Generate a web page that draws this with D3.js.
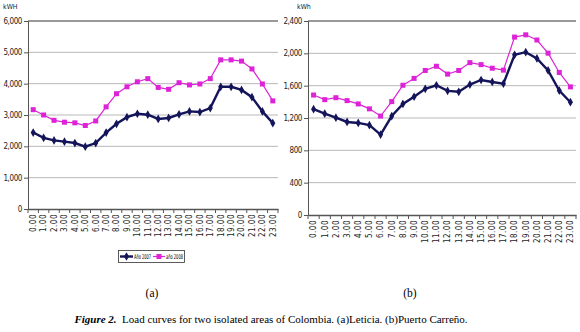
<!DOCTYPE html>
<html>
<head>
<meta charset="utf-8">
<script src="https://cdn.jsdelivr.net/npm/d3@7"></script>
<style>
  body { margin: 0; background: #fff; }
  .tick text { font-family: "DejaVu Sans Condensed", "Liberation Sans Narrow", sans-serif; font-size: 8px; fill: #222; }
</style>
</head>
<body>
<svg id="chart" width="580" height="332"></svg>
<script>
const hours = ['0.00','1.00','2.00','3.00','4.00','5.00','6.00','7.00','8.00','9.00','10.00','11.00',
  '12.00','13.00','14.00','15.00','16.00','17.00','18.00','19.00','20.00','21.00','22.00','23.00']

// (a) Leticia
const leticia2007 = [2440, 2270, 2190, 2150, 2105, 1990, 2105, 2440, 2720, 2930, 3040, 3010,
  2875, 2905, 3020, 3115, 3095, 3220, 3900, 3900, 3800, 3570, 3115, 2740]
const leticia2008 = [3170, 3000, 2830, 2770, 2750, 2665, 2810, 3260, 3680, 3900, 4060, 4160,
  3880, 3820, 4030, 3960, 3990, 4160, 4760, 4760, 4720, 4470, 3990, 3450]
const leticiaTicks = [0, 1000, 2000, 3000, 4000, 5000, 6000]

// (b) Puerto Carreño
const carreno2007 = [1309, 1253, 1204, 1151, 1139, 1111, 995, 1224, 1374, 1463, 1561, 1605,
  1536, 1524, 1613, 1670, 1646, 1625, 1982, 2014, 1937, 1788, 1540, 1395]
const carreno2008 = [1484, 1427, 1451, 1415, 1374, 1313, 1224, 1403, 1605, 1690, 1788, 1840,
  1743, 1788, 1885, 1860, 1816, 1792, 2201, 2229, 2165, 2002, 1763, 1585]
const carrenoTicks = [0, 400, 800, 1200, 1600, 2000, 2400]

const navy = '#14145a'
const magenta = '#dd22d8'
const narrow = '"DejaVu Sans Condensed", "Liberation Sans Narrow", sans-serif'
const svg = d3.select('#chart')

function drawPanel(opts) {
  const g = svg.append('g')
  const x = d3.scaleBand().domain(hours).range([opts.left, opts.right])
  const y = d3.scaleLinear().domain([0, opts.max]).range([opts.bottom, opts.top])

  // gridlines, top one darker like the plot border
  g.selectAll('line.grid').data(opts.ticks.slice(1)).enter().append('line')
    .attr('class', 'grid')
    .attr('x1', opts.left).attr('x2', opts.right)
    .attr('y1', d => y(d)).attr('y2', d => y(d))
    .attr('stroke', d => d === opts.max ? '#777' : '#b8b8b8')
    .attr('stroke-width', d => d === opts.max ? 1.5 : 1)

  const yAxis = d3.axisLeft(y).tickValues(opts.ticks).tickSize(4).tickPadding(2)
    .tickFormat(d3.format(','))
  const yG = g.append('g').attr('transform', `translate(${opts.left},0)`).call(yAxis)
  yG.select('.domain').attr('stroke', '#555')
  yG.selectAll('.tick line').attr('stroke', '#555')
  yG.selectAll('.tick text').attr('letter-spacing', '-0.4px')

  const xAxis = d3.axisBottom(x).tickSize(0).tickPadding(0)
  const xG = g.append('g').attr('transform', `translate(0,${opts.bottom})`).call(xAxis)
  xG.select('.domain').attr('stroke', '#555').attr('stroke-width', 1.5)
  xG.selectAll('.tick text')
    .attr('transform', 'rotate(-90)')
    .attr('text-anchor', 'end')
    .attr('dy', '0.35em')
    .attr('x', -5).attr('y', 0)
    .attr('letter-spacing', '0.5px')
  // category separator ticks
  g.selectAll('line.xtick').data(d3.range(hours.length + 1)).enter().append('line')
    .attr('x1', i => opts.left + i * x.step()).attr('x2', i => opts.left + i * x.step())
    .attr('y1', opts.bottom).attr('y2', opts.bottom + 4)
    .attr('stroke', '#555')

  g.append('text').attr('x', opts.unitX).attr('y', 9)
    .attr('font-family', narrow)
    .attr('font-size', 7).attr('fill', '#222').text(opts.unit)

  const line = d3.line().x((d, i) => x(hours[i]) + x.bandwidth() / 2).y(d => y(d))

  g.append('path').datum(opts.s2008)
    .attr('d', line).attr('fill', 'none').attr('stroke', magenta).attr('stroke-width', 1.2)
  g.selectAll('rect.m').data(opts.s2008).enter().append('rect')
    .attr('x', (d, i) => x(hours[i]) + x.bandwidth() / 2 - 2.5)
    .attr('y', d => y(d) - 2.5)
    .attr('width', 5).attr('height', 5).attr('fill', magenta)

  g.append('path').datum(opts.s2007)
    .attr('d', line).attr('fill', 'none').attr('stroke', navy).attr('stroke-width', 2.4)
  const diamond = d3.symbol().type(d3.symbolDiamond).size(22)
  g.selectAll('path.n').data(opts.s2007).enter().append('path')
    .attr('d', diamond)
    .attr('transform', (d, i) => `translate(${x(hours[i]) + x.bandwidth() / 2},${y(d)})`)
    .attr('fill', navy)

  g.append('text').attr('x', opts.capX).attr('y', 297)
    .attr('text-anchor', 'middle')
    .attr('font-family', '"Liberation Serif", serif').attr('font-size', 11.5)
    .text(opts.cap)
}

drawPanel({ left: 28, right: 278, top: 21, bottom: 209, max: 6000, ticks: leticiaTicks,
  s2007: leticia2007, s2008: leticia2008, unit: 'kWH', unitX: 3, capX: 152, cap: '(a)' })
drawPanel({ left: 308, right: 576, top: 21, bottom: 215, max: 2400, ticks: carrenoTicks,
  s2007: carreno2007, s2008: carreno2008, unit: 'kWh', unitX: 297, capX: 410, cap: '(b)' })

// legend for (a)
const leg = svg.append('g')
leg.append('rect').attr('x', 118.5).attr('y', 250.5).attr('width', 66).attr('height', 12)
  .attr('fill', '#fff').attr('stroke', '#333').attr('stroke-width', 0.8)
leg.append('line').attr('x1', 120).attr('x2', 133).attr('y1', 256.5).attr('y2', 256.5)
  .attr('stroke', navy).attr('stroke-width', 2.4)
leg.append('path').attr('d', d3.symbol().type(d3.symbolDiamond).size(22))
  .attr('transform', 'translate(126.5,256.5)').attr('fill', navy)
leg.append('text').attr('x', 134).attr('y', 259)
  .attr('font-family', narrow).attr('font-size', 6.5)
  .attr('textLength', 17).attr('lengthAdjust', 'spacingAndGlyphs').text('Año 2007')
leg.append('line').attr('x1', 153).attr('x2', 165).attr('y1', 256.5).attr('y2', 256.5)
  .attr('stroke', magenta).attr('stroke-width', 1.2)
leg.append('rect').attr('x', 156.5).attr('y', 254).attr('width', 5).attr('height', 5).attr('fill', magenta)
leg.append('text').attr('x', 166).attr('y', 259)
  .attr('font-family', narrow).attr('font-size', 6.5)
  .attr('textLength', 17).attr('lengthAdjust', 'spacingAndGlyphs').text('año 2008')

// caption
const cap = svg.append('text').attr('x', 271).attr('y', 323).attr('text-anchor', 'middle')
  .attr('font-family', '"Liberation Serif", "Times New Roman", serif').attr('font-size', 11)
cap.append('tspan').attr('font-style', 'italic').attr('font-weight', 'bold').text('Figure 2.')
cap.append('tspan').text('\u00a0 Load curves for two isolated areas of Colombia. (a)Leticia. (b)Puerto Carreño.')
</script>
</body>
</html>
